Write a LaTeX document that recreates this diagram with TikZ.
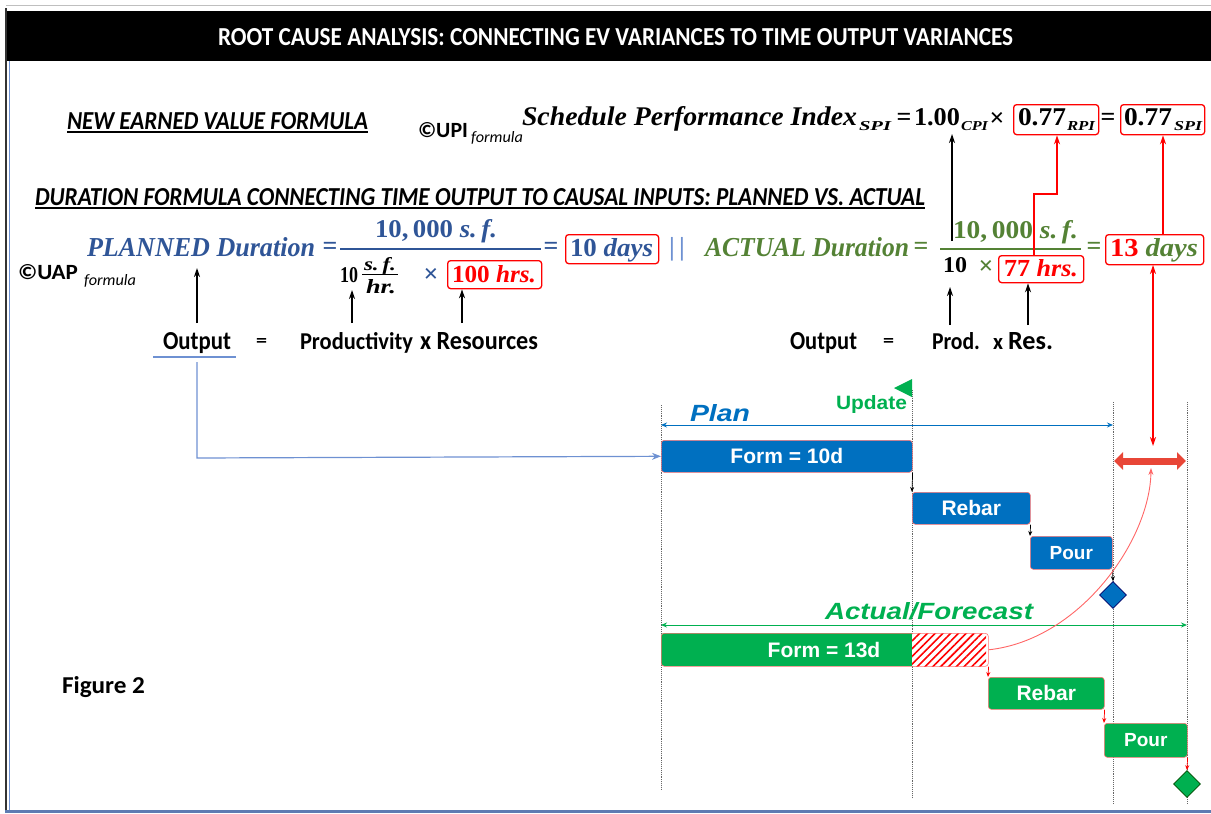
\documentclass[tikz,border=0pt]{standalone}
\usepackage{fontspec}
\usepackage{graphicx}
\setmainfont{Carlito}
\newfontfamily\arialf{Liberation Sans}
\newfontfamily\seriff{Liberation Serif}
\usetikzlibrary{arrows.meta,patterns.meta,shapes.geometric}
\newcommand\fb[3]{\resizebox{#1pt}{#2pt}{#3}}
\definecolor{pblue}{RGB}{0,112,192}
\definecolor{pgreen}{RGB}{0,176,80}
\definecolor{fblue}{RGB}{47,85,151}
\definecolor{fgreen}{RGB}{84,130,53}
\definecolor{lblue}{RGB}{110,145,210}
\definecolor{bred}{RGB}{255,0,0}
\definecolor{tred}{RGB}{232,70,55}
\tikzset{
  txt/.style={inner sep=0pt, outer sep=0pt, anchor=base west},
  sym/.style={inner sep=0pt, outer sep=0pt, font=\fontsize{26}{26}\seriff\bfseries},
  redbox/.style={draw=bred, line width=1.3pt, rounded corners=3pt, inner sep=0pt, anchor=north west},
  blk/.style={line width=1.3pt, -{Stealth[length=9pt,width=6pt]}},
  redarr/.style={bred, line width=1.3pt, -{Stealth[length=9pt,width=6pt]}},
  bar/.style={rounded corners=3pt, draw=red!55, line width=0.6pt, inner sep=0pt, anchor=north west, text=white, font=\arialf\bfseries},
  vline/.style={densely dotted, black!60, line width=0.9pt},
  small/.style={-{Stealth[length=5pt,width=4pt]}, line width=0.7pt},
}
\begin{document}
\begin{tikzpicture}[x=1pt,y=-1pt]
\useasboundingbox (0,0) rectangle (1211,814);
% frame
\draw[gray!50, line width=1pt] (6,5) -- (1211,5);
\fill[black] (5,11) rectangle (1211,61);
\draw[black!80, line width=2.5pt] (6,8) -- (6,812);
\draw[lblue, line width=1.5pt] (9.5,61) -- (9.5,810);
\draw[lblue!85!black, line width=3pt] (5,811) -- (1211,811);
% title
\node[txt, text=white] (title) at (218,45) {\fb{795}{17}{\bfseries ROOT CAUSE ANALYSIS: CONNECTING EV VARIANCES TO TIME OUTPUT VARIANCES}};
% row 1
\node[txt] (nev) at (67,129) {\fb{301}{17}{\bfseries\itshape NEW EARNED VALUE FORMULA}};
\draw[line width=1.2pt] ([yshift=-3pt]nev.base west) -- ([yshift=-3pt]nev.base east);
\node[txt] (upi) at (418,137) {\fb{50}{15}{\bfseries ©UPI}};
\node[txt] (upif) at (471,142) {\fb{52}{11}{\itshape formula}};
\node[txt] (sched) at (522,125) {\fb{335}{19}{\seriff\bfseries\itshape Schedule Performance Index}};
\node[txt] (sub1) at (859,130) {\fb{32}{9}{\seriff\bfseries\itshape SPI}};
\node[sym] (eq1) at (904,119) {=};
\node[txt] (one) at (914,125) {\fb{46}{17}{\seriff\bfseries 1.00}};
\node[txt] (cpi) at (961,130) {\fb{27}{9}{\seriff\bfseries\itshape CPI}};
\node[sym] (x1) at (997,119) {×};
\node[redbox, minimum width=85, minimum height=30] (rpi) at (1013,104) {};
\node[txt] (rpiv) at (1018,125) {\fb{48}{17}{\seriff\bfseries 0.77}};
\node[txt] (rpis) at (1067,130) {\fb{28}{9}{\seriff\bfseries\itshape RPI}};
\node[sym] (eq2) at (1108,119) {=};
\node[redbox, minimum width=84, minimum height=30] (spib) at (1120,104) {};
\node[txt] (spiv) at (1124,125) {\fb{48}{17}{\seriff\bfseries 0.77}};
\node[txt] (spis) at (1174,130) {\fb{28}{9}{\seriff\bfseries\itshape SPI}};
% row 2
\node[txt] (dur) at (35,205) {\fb{890}{17}{\bfseries\itshape DURATION FORMULA CONNECTING TIME OUTPUT TO CAUSAL INPUTS: PLANNED VS. ACTUAL}};
\draw[line width=1.2pt] ([yshift=-3pt]dur.base west) -- ([yshift=-3pt]dur.base east);
% row 3 planned
\node[txt] (uap) at (18,279) {\fb{60}{15}{\bfseries ©UAP}};
\node[txt] (uapf) at (84,285) {\fb{52}{11}{\itshape formula}};
\node[txt, text=fblue] (pd) at (87,256) {\fb{228}{19}{\seriff\bfseries\itshape PLANNED Duration}};
\node[sym, text=fblue] (eq3) at (330,248) {=};
\node[txt, text=fblue] (pnum) at (375,237) {\fb{122}{18}{\seriff\bfseries 10,\,000 \itshape s.\,f.}};
\draw[fblue, line width=1.3pt] (340,249) -- (541,249);
\node[txt] (pten) at (340,282) {\fb{18}{15}{\seriff\bfseries 10}};
\node[txt] (psf) at (364,270) {\fb{32}{13}{\seriff\bfseries\itshape s.\,f.}};
\draw[line width=1pt] (362,274) -- (398,274);
\node[txt] (phr) at (366,293) {\fb{30}{14}{\seriff\bfseries\itshape hr.}};
\node[sym, text=fblue] (x2) at (431,275) {×};
\node[redbox, minimum width=94, minimum height=28] (h100) at (447,260) {};
\node[txt, text=bred] at (452,282) {\fb{84}{17}{\seriff\bfseries 100 \itshape hrs.}};
\node[sym, text=fblue] (eq4) at (551,248) {=};
\node[redbox, minimum width=93, minimum height=29] (d10) at (565,234) {};
\node[txt, text=fblue] at (570,256) {\fb{83}{18}{\seriff\bfseries 10 \itshape days}};
\node[sym, text=lblue] (bars) at (677,249) {|\,|};
% row 3 actual
\node[txt, text=fgreen] (ad) at (705,256) {\fb{204}{19}{\seriff\bfseries\itshape ACTUAL Duration}};
\node[sym, text=fgreen] (eq5) at (921,248) {=};
\node[txt, text=fgreen] (anum) at (953,238) {\fb{125}{18}{\seriff\bfseries 10,\,000 \itshape s.\,f.}};
\draw[fgreen, line width=1.3pt] (940,249) -- (1081,249);
\node[txt] (aten) at (943,272) {\fb{24}{15}{\seriff\bfseries 10}};
\node[sym, text=fgreen] (x3) at (986,267) {×};
\node[redbox, minimum width=85, minimum height=27] (h77) at (998,255) {};
\node[txt, text=bred] at (1004,276) {\fb{74}{17}{\seriff\bfseries 77 \itshape hrs.}};
\node[sym, text=fgreen] (eq6) at (1094,248) {=};
\node[redbox, minimum width=98, minimum height=30] (d13) at (1105,234) {};
\node[txt] at (1110,256) {\fb{88}{18}{\seriff\bfseries\textcolor{bred}{13} \textcolor{fgreen}{\itshape days}}};
% row 4
\node[txt] (outl) at (163,349) {\fb{68}{17}{\bfseries Output}};
\node[txt] (eql) at (256,346) {\fb{11}{8}{\bfseries =}};
\node[txt] (prodl) at (300,349) {\fb{113}{17}{\bfseries Productivity}};
\node[txt] (resl) at (420,349) {\fb{118}{17}{\bfseries x Resources}};
\draw[lblue, line width=1.6pt] (153,357) -- (236,357);
\node[txt] (outr) at (790,349) {\fb{67}{17}{\bfseries Output}};
\node[txt] (eqr) at (883,346) {\fb{11}{8}{\bfseries =}};
\node[txt] (prodr) at (932,349) {\fb{48}{17}{\bfseries Prod.}};
\node[txt] (xr) at (993,349) {\fb{10}{11}{\bfseries x}};
\node[txt] (resr) at (1008,349) {\fb{45}{17}{\bfseries Res.}};
% arrows formula
\coordinate (a1s) at (197,323); \coordinate (a1e) at (197,268);
\coordinate (a2s) at (352,323); \coordinate (a2e) at (352,290);
\coordinate (a3s) at (462,323);
\coordinate (a4s) at (950,325); \coordinate (a4e) at (950,287);
\coordinate (a5s) at (1028,325);
\coordinate (a6s) at (952,241); \coordinate (a6e) at (952,134);
\draw[blk] (a1s) -- (a1e);
\draw[blk] (a2s) -- (a2e);
\draw[blk] (a3s) -- (a3s |- h100.south);
\draw[blk] (a4s) -- (a4e);
\draw[blk] (a5s) -- (a5s |- h77.south);
\draw[blk] (a6s) -- (a6e);
\coordinate (r1s) at (1034,255); \coordinate (r1m) at (1034,194); \coordinate (r1n) at (1057,194);
\draw[redarr] (r1s) -- (r1m) -- (r1n) -- (r1n |- rpi.south);
\coordinate (r2s) at (1163,234);
\draw[redarr] (r2s) -- (r2s |- spib.south);
\coordinate (r3s) at (1153,265); \coordinate (r3e) at (1153,446);
\draw[bred, line width=1.3pt, {Stealth[length=9pt,width=6pt]}-{Stealth[length=9pt,width=6pt]}] (r3s) -- (r3e);
% gantt
\coordinate (ta) at (661,405); \coordinate (ba) at (661,790);
\coordinate (tb) at (912,390); \coordinate (bb) at (912,797);
\coordinate (tc) at (1113,402); \coordinate (bc) at (1113,803);
\coordinate (td) at (1187,402); \coordinate (bd) at (1187,803);
\draw[vline] (ta) -- (ba);
\draw[vline] (tb) -- (bb);
\draw[vline] (tc) -- (bc);
\draw[vline] (td) -- (bd);
\fill[pgreen] (912,379) -- (912,397) -- (894,388) -- cycle;
\node[txt, text=pgreen] (upd) at (836,409) {\fb{71}{14}{\arialf\bfseries Update}};
\node[txt, text=pblue] (plan) at (690,421) {\fb{60}{17}{\arialf\bfseries\itshape Plan}};
\coordinate (pl1) at (661,425); \coordinate (pl2) at (1113,425);
\draw[pblue, line width=0.9pt, {Stealth[length=6pt,width=5pt]}-{Stealth[length=6pt,width=5pt]}] (pl1) -- (pl2);
\node[bar, fill=pblue, minimum width=251, minimum height=32, font=\fontsize{21}{21}\arialf\bfseries] (f10) at (661,440) {Form = 10d};
\node[bar, fill=pblue, minimum width=118, minimum height=32, font=\fontsize{21}{21}\arialf\bfseries] (rb1) at (912,492) {Rebar};
\node[bar, fill=pblue, minimum width=82, minimum height=33, font=\fontsize{19}{19}\arialf\bfseries] (po1) at (1030,536) {Pour};
\node[diamond, fill=pblue, draw=blue!40!black, line width=0.6pt, minimum width=27, minimum height=27, inner sep=0pt] (d1) at (1113,595) {};
\draw[small] (f10.south east) -- (rb1.north west);
\draw[small] (rb1.south east) -- (po1.north west);
\draw[small] (po1.south east) -- (d1.north);
\coordinate (h1) at (1114,461); \coordinate (h2) at (1186,461);
\draw[tred, line width=7pt, {Triangle[length=9pt,width=17pt]}-{Triangle[length=9pt,width=17pt]}] (h1) -- (h2);
% actual
\node[txt, text=pgreen] (act) at (825,619) {\fb{208}{17}{\arialf\bfseries\itshape Actual/Forecast}};
\coordinate (ac1) at (661,625); \coordinate (ac2) at (1187,625);
\draw[pgreen, line width=0.9pt, {Stealth[length=6pt,width=5pt]}-{Stealth[length=6pt,width=5pt]}] (ac1) -- (ac2);
\fill[pgreen, rounded corners=3pt] (661,633) rectangle (918,666);
\fill[white] (912,633) rectangle (988,666);
\fill[pattern={Lines[angle=45,distance=5.5pt,line width=1.6pt]}, pattern color=red] (912,633) rectangle (986,666);
\node[bar, minimum width=327, minimum height=33] (f13) at (661,633) {};
\node[text=white, font=\fontsize{21}{21}\arialf\bfseries, inner sep=0pt] (f13t) at (824,650) {Form = 13d};
\node[bar, fill=pgreen, minimum width=116, minimum height=32, font=\fontsize{21}{21}\arialf\bfseries] (rb2) at (988,677) {Rebar};
\node[bar, fill=pgreen, minimum width=83, minimum height=34, font=\fontsize{19}{19}\arialf\bfseries] (po2) at (1104,723) {Pour};
\node[diamond, fill=pgreen, draw=green!30!black, line width=0.6pt, minimum width=27, minimum height=27, inner sep=0pt] (d2) at (1187,784) {};
\draw[small, bred] (f13.south east) -- (rb2.north west);
\draw[small, bred] (rb2.south east) -- (po2.north west);
\draw[small, bred] (po2.south east) -- (d2.north);
\coordinate (cv) at (1151,468);
\draw[red!60, line width=0.9pt, -{Stealth[length=7pt,width=5pt]}] (f13.east) .. controls (1080,640) and (1150,540) .. (cv);
% blue connector
\coordinate (bc1) at (197,362); \coordinate (bc2) at (197,458);
\draw[lblue, line width=1.2pt, -{Stealth[length=9pt,width=7pt]}] (bc1) -- (bc2) -- (f10.west);
% figure label
\node[txt] (fig) at (62,693) {\fb{83}{17}{\bfseries Figure 2}};
\end{tikzpicture}
\end{document}
